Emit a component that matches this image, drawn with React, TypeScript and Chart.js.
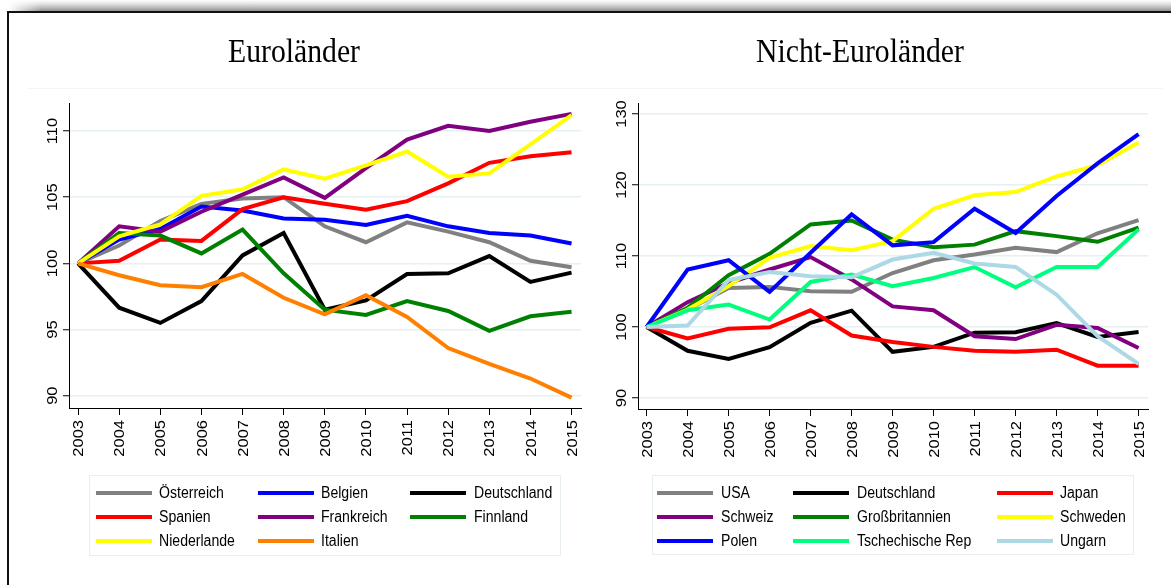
import React, { useEffect, useRef } from "react";
import { Chart, registerables } from "chart.js";

Chart.register(...registerables);

// ---------- data ----------
const YEARS = [2003, 2004, 2005, 2006, 2007, 2008, 2009, 2010, 2011, 2012, 2013, 2014, 2015];

const EURO_TICKS_Y = [90, 95, 100, 105, 110];
const NONEURO_TICKS_Y = [90, 100, 110, 120, 130];

// Euroländer
const oesterreich = [100, 101.35, 103.2, 104.5, 104.9, 105.0, 102.8, 101.6, 103.1, 102.4, 101.6, 100.2, 99.7];
const belgien = [100, 101.8, 102.6, 104.3, 104.0, 103.4, 103.3, 102.9, 103.6, 102.8, 102.3, 102.1, 101.5];
const deutschland = [100, 96.65, 95.5, 97.15, 100.6, 102.3, 96.5, 97.2, 99.2, 99.25, 100.55, 98.6, 99.3];
const spanien = [100, 100.2, 101.8, 101.7, 104.1, 105.0, 104.5, 104.05, 104.7, 106.05, 107.6, 108.1, 108.4];
const frankreich = [100, 102.8, 102.4, 103.9, 105.2, 106.5, 104.95, 107.2, 109.35, 110.4, 110.0, 110.7, 111.3];
const finnland = [100, 102.3, 102.1, 100.75, 102.55, 99.25, 96.5, 96.1, 97.15, 96.4, 94.9, 96.0, 96.35];
const niederlande = [100, 102.05, 102.95, 105.1, 105.6, 107.1, 106.4, 107.4, 108.45, 106.55, 106.8, 109.0, 111.2];
const italien = [100, 99.1, 98.35, 98.2, 99.2, 97.4, 96.15, 97.6, 95.95, 93.6, 92.4, 91.3, 89.85];

// Nicht-Euroländer
const usa = [100, 102.45, 105.5, 105.65, 105.05, 104.95, 107.6, 109.4, 110.2, 111.15, 110.55, 113.2, 115.05];
const japan = [100, 98.4, 99.75, 99.95, 102.35, 98.8, 97.9, 97.2, 96.65, 96.5, 96.8, 94.55, 94.55];
const schweiz = [100, 103.5, 106.2, 108.1, 109.85, 106.7, 102.9, 102.35, 98.7, 98.3, 100.3, 99.85, 97.05];
const grossbritannien = [100, 102.7, 107.3, 110.3, 114.45, 115.0, 112.3, 111.25, 111.6, 113.5, 112.8, 112.0, 114.0];
const schweden = [100, 102.45, 105.75, 109.75, 111.4, 110.8, 112.1, 116.65, 118.55, 119.0, 121.2, 122.8, 126.0];
const polen = [100, 108.1, 109.4, 104.95, 110.45, 115.85, 111.5, 111.95, 116.65, 113.25, 118.45, 123.05, 127.15];
const tschechien = [100, 102.35, 103.15, 101.05, 106.35, 107.4, 105.75, 106.9, 108.45, 105.6, 108.45, 108.45, 113.75];
const ungarn = [100, 100.2, 106.6, 107.75, 107.15, 107.0, 109.5, 110.45, 108.95, 108.45, 104.55, 98.7, 94.8];

const EURO_NAMES = ["Österreich", "Belgien", "Deutschland", "Spanien", "Frankreich", "Finnland", "Niederlande", "Italien"];
const EURO_VALUES = [oesterreich, belgien, deutschland, spanien, frankreich, finnland, niederlande, italien];
const EURO_COLORS = ["#808080", "#0000ff", "#000000", "#ff0000", "#800080", "#008000", "#ffff00", "#ff8000"];

const NONEURO_NAMES = ["USA", "Deutschland", "Japan", "Schweiz", "Großbritannien", "Schweden", "Polen", "Tschechische Rep", "Ungarn"];
const NONEURO_VALUES = [usa, deutschland, japan, schweiz, grossbritannien, schweden, polen, tschechien, ungarn];
const NONEURO_COLORS = ["#808080", "#000000", "#ff0000", "#800080", "#008000", "#ffff00", "#0000ff", "#00ff7f", "#add8e6"];

// ---------- styling constants ----------
const SQ = 0.86; // horizontal text compression of the reference
const TICK_FS = 16.5;
const SANS = '"Liberation Sans", Arial, Helvetica, sans-serif';
const SERIF = '"Liberation Serif", "Times New Roman", serif';

const axisLabelPlugin = {
  id: "axisLabels",
  afterDraw(chart: any) {
    const { ctx, chartArea, scales } = chart;
    const xs = scales.x;
    const ys = scales.y;
    ctx.save();
    ctx.fillStyle = "#000";
    ctx.font = `${TICK_FS}px ${SANS}`;
    xs.ticks.forEach((t: any) => {
      const px = xs.getPixelForValue(t.value);
      ctx.save();
      ctx.translate(px + 5.1, chartArea.bottom + 12);
      ctx.rotate(-Math.PI / 2);
      ctx.scale(1, SQ);
      ctx.textAlign = "right";
      ctx.textBaseline = "alphabetic";
      ctx.fillText(String(t.value), 0, 0);
      ctx.restore();
    });
    ys.ticks.forEach((t: any) => {
      const py = ys.getPixelForValue(t.value);
      ctx.save();
      ctx.translate(chartArea.left - 12, py);
      ctx.rotate(-Math.PI / 2);
      ctx.scale(1, SQ);
      ctx.textAlign = "center";
      ctx.textBaseline = "alphabetic";
      ctx.fillText(String(t.value), 0, 0);
      ctx.restore();
    });
    ctx.restore();
  },
};

type PanelProps = {
  names: string[];
  values: number[][];
  colors: string[];
  yTicks: number[];
  yMin: number;
  yMax: number;
  xMin: number;
  xMax: number;
  left: number;
  top: number;
  width: number;
  height: number;
  yAxisWidth: number;
  xAxisHeight: number;
  padRight: number;
  padTop: number;
};

function Panel(p: PanelProps) {
  const ref = useRef<HTMLCanvasElement | null>(null);
  useEffect(() => {
    if (!ref.current) return;
    const n = p.names.length;
    const chart = new Chart(ref.current, {
      type: "line",
      data: {
        datasets: p.names.map((name, i) => ({
          label: name,
          data: YEARS.map((yr, j) => ({ x: yr, y: p.values[i][j] })),
          borderColor: p.colors[i],
          backgroundColor: p.colors[i],
          borderWidth: 4,
          pointRadius: 0,
          pointHoverRadius: 0,
          tension: 0,
          fill: false,
          order: n - i,
        })),
      },
      options: {
        animation: false,
        responsive: false,
        devicePixelRatio: 1,
        events: [],
        layout: { padding: { left: 0, top: p.padTop, right: p.padRight, bottom: 0 } },
        plugins: {
          legend: { display: false },
          tooltip: { enabled: false },
          title: { display: false },
        },
        scales: {
          x: {
            type: "linear",
            min: p.xMin,
            max: p.xMax,
            afterBuildTicks: (s: any) => {
              s.ticks = YEARS.map((v) => ({ value: v }));
            },
            afterFit: (s: any) => {
              s.height = p.xAxisHeight;
            },
            ticks: { display: false },
            grid: {
              drawOnChartArea: false,
              drawTicks: true,
              tickLength: 7,
              tickColor: "#000",
              tickWidth: 1,
            },
            border: { display: true, color: "#000", width: 1 },
          },
          y: {
            type: "linear",
            min: p.yMin,
            max: p.yMax,
            afterBuildTicks: (s: any) => {
              s.ticks = p.yTicks.map((v) => ({ value: v }));
            },
            afterFit: (s: any) => {
              s.width = p.yAxisWidth;
            },
            ticks: { display: false },
            grid: {
              color: "#e6eff1",
              lineWidth: 1.5,
              drawTicks: true,
              tickLength: 6,
              tickColor: "#000",
              tickWidth: 1,
            },
            border: { display: true, color: "#000", width: 1 },
          },
        },
      } as any,
      plugins: [axisLabelPlugin],
    });
    return () => chart.destroy();
  }, []);
  return (
    <canvas
      ref={ref}
      width={p.width}
      height={p.height}
      style={{ position: "absolute", left: p.left, top: p.top, width: p.width, height: p.height }}
    />
  );
}

type LegendProps = {
  names: string[];
  colors: string[];
  left: number;
  top: number;
  width: number;
  height: number;
  colX: number[];
  rowY: number[];
};

function Legend(l: LegendProps) {
  return (
    <div
      style={{
        position: "absolute",
        left: l.left,
        top: l.top,
        width: l.width,
        height: l.height,
        border: "1px solid #e8eff1",
        boxSizing: "border-box",
      }}
    >
      {l.names.map((name, i) => {
        const c = i % 3;
        const r = Math.floor(i / 3);
        const x = l.colX[c];
        const y = l.rowY[r];
        return (
          <React.Fragment key={name + i}>
            <div
              style={{
                position: "absolute",
                left: x,
                top: y - 2,
                width: 56,
                height: 4,
                background: l.colors[i],
              }}
            />
            <div
              style={{
                position: "absolute",
                left: x + 63.5,
                top: y - 9,
                height: 18,
                lineHeight: "18px",
                fontFamily: SANS,
                fontSize: 16,
                color: "#000",
                whiteSpace: "nowrap",
                transform: `scaleX(${0.88})`,
                transformOrigin: "0 50%",
              }}
            >
              {name}
            </div>
          </React.Fragment>
        );
      })}
    </div>
  );
}

export default function App() {
  return (
    <div
      style={{
        position: "fixed",
        left: 0,
        top: 0,
        width: 1171,
        height: 585,
        background: "#fff",
        overflow: "hidden",
      }}
    >
      {/* top shadow */}
      <div
        style={{
          position: "absolute",
          left: 8,
          top: 0,
          width: 1163,
          height: 11,
          background: "linear-gradient(to bottom, #ffffff 0%, #e2e2e2 35%, #b4b4b4 75%, #8e8e8e 100%)",
          WebkitMaskImage: "linear-gradient(to right, transparent 0px, black 34px)",
          maskImage: "linear-gradient(to right, transparent 0px, black 34px)",
        }}
      />
      {/* frame lines */}
      <div style={{ position: "absolute", left: 7, top: 11, width: 1164, height: 2, background: "#111" }} />
      <div style={{ position: "absolute", left: 7, top: 11, width: 2, height: 574, background: "#111" }} />
      {/* faint plot-region line */}
      <div style={{ position: "absolute", left: 28, top: 88, width: 1135, height: 1, background: "#f3f5f6" }} />

      {/* titles */}
      <div
        style={{
          position: "absolute",
          left: 194,
          top: 35,
          width: 200,
          textAlign: "center",
          fontFamily: SERIF,
          fontSize: 33,
          lineHeight: "33px",
          color: "#000",
          whiteSpace: "nowrap",
          transform: "scaleX(0.9)",
          transformOrigin: "50% 50%",
        }}
      >
        Euroländer
      </div>
      <div
        style={{
          position: "absolute",
          left: 710,
          top: 35,
          width: 300,
          textAlign: "center",
          fontFamily: SERIF,
          fontSize: 33,
          lineHeight: "33px",
          color: "#000",
          whiteSpace: "nowrap",
          transform: "scaleX(0.9)",
          transformOrigin: "50% 50%",
        }}
      >
        Nicht-Euroländer
      </div>

      <Panel
        names={EURO_NAMES}
        values={EURO_VALUES}
        colors={EURO_COLORS}
        yTicks={EURO_TICKS_Y}
        yMin={89.07}
        yMax={112.12}
        xMin={2002.78}
        xMax={2015.23}
        left={20}
        top={95}
        width={575}
        height={380}
        yAxisWidth={49}
        xAxisHeight={67}
        padRight={14}
        padTop={8}
      />
      <Panel
        names={NONEURO_NAMES}
        values={NONEURO_VALUES}
        colors={NONEURO_COLORS}
        yTicks={NONEURO_TICKS_Y}
        yMin={88.45}
        yMax={131.55}
        xMin={2002.79}
        xMax={2015.23}
        left={588}
        top={95}
        width={575}
        height={380}
        yAxisWidth={50}
        xAxisHeight={66}
        padRight={15}
        padTop={8}
      />

      <Legend
        names={EURO_NAMES}
        colors={EURO_COLORS}
        left={89}
        top={475}
        width={472}
        height={81}
        colX={[5.5, 167.5, 320]}
        rowY={[17, 40.5, 64.5]}
      />
      <Legend
        names={NONEURO_NAMES}
        colors={NONEURO_COLORS}
        left={652}
        top={475}
        width={482}
        height={80}
        colX={[4, 140, 343.5]}
        rowY={[17, 40.5, 64.5]}
      />
    </div>
  );
}
